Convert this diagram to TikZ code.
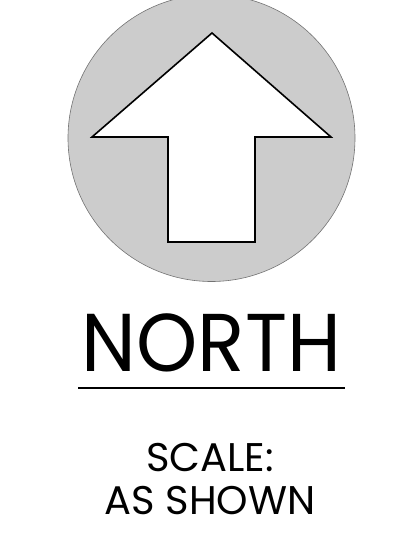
\documentclass[tikz,border=0pt]{standalone}
\usepackage{fontspec}
\setmainfont{Poppins}
\usetikzlibrary{positioning}
\definecolor{dialgray}{HTML}{CCCCCC}

\begin{document}
\begin{tikzpicture}[
    x=1pt, y=-1pt,
    dial/.style={fill=dialgray, draw=black!55, line width=0.6pt},
    pointer/.style={fill=white, draw=black, line width=1.6pt, line join=miter},
    title/.style={font=\fontsize{82}{82}\selectfont, inner sep=0pt, anchor=base, xscale=0.95},
    note/.style={font=\fontsize{40}{44}\selectfont, inner sep=0pt, align=center, anchor=base}
]
\useasboundingbox (0,0) rectangle (415,554);

% Compass dial
\fill[dial] (211.5,138) circle (143.5);

% North pointer
\draw[pointer] (212,33) -- (331,137) -- (255,137) -- (255,242)
    -- (168,242) -- (168,137) -- (92,137) -- cycle;

% Title and rule
\node[title] (north) at (211.5,371) {NORTH};
\draw[line width=1.2pt] (78,388) -- (345,388);

% Scale note
\node[note] (scale) at (210,471) {SCALE:};
\node[note] (shown) at (210,514) {AS SHOWN};

\end{tikzpicture}
\end{document}
